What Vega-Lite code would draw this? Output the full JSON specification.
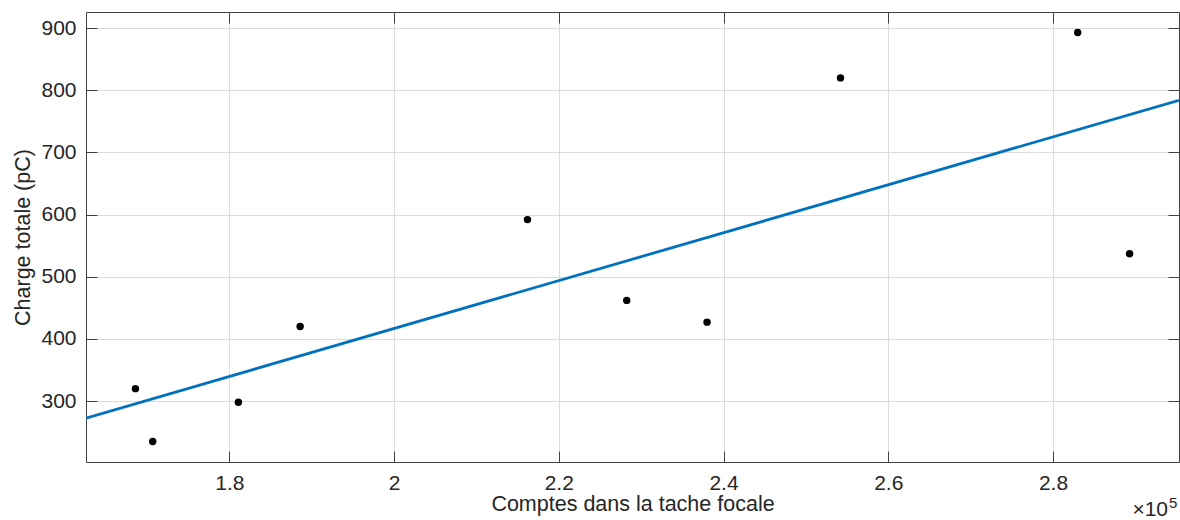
{
  "$schema": "https://vega.github.io/schema/vega-lite/v6.json",
  "width": 1093,
  "height": 450,
  "autosize": {"type": "none"},
  "padding": {"left": 86, "top": 12, "right": 1, "bottom": 58},
  "background": "white",
  "config": {
    "view": {"stroke": null},
    "font": "Liberation Sans",
    "axis": {
      "domainColor": "#404040",
      "domainWidth": 1,
      "tickColor": "#404040",
      "tickWidth": 1,
      "tickSize": -11,
      "gridColor": "#dcdcdc",
      "gridWidth": 1,
      "labelFont": "Liberation Sans",
      "labelFontSize": 21,
      "labelColor": "#262626",
      "titleFont": "Liberation Sans",
      "titleFontSize": 21.5,
      "titleFontWeight": "normal",
      "titleColor": "#262626"
    }
  },
  "datasets": {
    "pts": [
      {"comptes": 168600, "charge": 320},
      {"comptes": 170700, "charge": 235},
      {"comptes": 181100, "charge": 298},
      {"comptes": 188600, "charge": 420},
      {"comptes": 216200, "charge": 592},
      {"comptes": 228250, "charge": 462},
      {"comptes": 238000, "charge": 427},
      {"comptes": 254200, "charge": 820},
      {"comptes": 283000, "charge": 893},
      {"comptes": 289300, "charge": 537}
    ],
    "fit": [
      {"comptes": 162600, "charge": 272.6},
      {"comptes": 295300, "charge": 784}
    ],
    "note": [
      {"comptes": 295300, "charge": 202}
    ]
  },
  "layer": [
    {
      "data": {"name": "pts"},
      "mark": {"type": "point", "filled": true, "color": "black", "size": 55, "opacity": 1},
      "encoding": {
        "x": {
          "field": "comptes", "type": "quantitative",
          "scale": {"domain": [162600, 295300], "nice": false, "zero": false},
          "axis": {
            "orient": "bottom",
            "values": [180000, 200000, 220000, 240000, 260000, 280000],
            "labelExpr": "format(datum.value / 100000, '~g')",
            "grid": true,
            "labelPadding": 21,
            "title": "Comptes dans la tache focale",
            "titleBaseline": "alphabetic",
            "titleY": 48
          }
        },
        "y": {
          "field": "charge", "type": "quantitative",
          "scale": {"domain": [202, 926], "nice": false, "zero": false},
          "axis": {
            "orient": "left",
            "values": [300, 400, 500, 600, 700, 800, 900],
            "grid": true,
            "labelPadding": 21,
            "title": "Charge totale (pC)",
            "titleBaseline": "alphabetic",
            "titleX": -57
          }
        }
      }
    },
    {
      "data": {"name": "fit"},
      "mark": {"type": "line", "color": "#0072bd", "strokeWidth": 2.8, "clip": true},
      "encoding": {
        "x": {
          "field": "comptes", "type": "quantitative",
          "scale": {"domain": [162600, 295300], "nice": false, "zero": false},
          "axis": {
            "orient": "top",
            "values": [180000, 200000, 220000, 240000, 260000, 280000],
            "labels": false, "grid": false, "title": null
          }
        },
        "y": {
          "field": "charge", "type": "quantitative",
          "scale": {"domain": [202, 926], "nice": false, "zero": false},
          "axis": {
            "orient": "right",
            "values": [300, 400, 500, 600, 700, 800, 900],
            "labels": false, "grid": false, "title": null
          }
        }
      }
    },
    {
      "data": {"name": "note"},
      "mark": {"type": "text", "text": "×10", "align": "right", "baseline": "alphabetic", "dx": -11, "dy": 54, "fontSize": 21, "font": "Liberation Sans", "color": "#262626"},
      "encoding": {
        "x": {"field": "comptes", "type": "quantitative", "axis": null},
        "y": {"field": "charge", "type": "quantitative", "axis": null}
      }
    },
    {
      "data": {"name": "note"},
      "mark": {"type": "text", "text": "5", "align": "left", "baseline": "alphabetic", "dx": -10, "dy": 46, "fontSize": 15, "font": "Liberation Sans", "color": "#262626"},
      "encoding": {
        "x": {"field": "comptes", "type": "quantitative", "axis": null},
        "y": {"field": "charge", "type": "quantitative", "axis": null}
      }
    }
  ],
  "resolve": {"axis": {"x": "independent", "y": "independent"}}
}
